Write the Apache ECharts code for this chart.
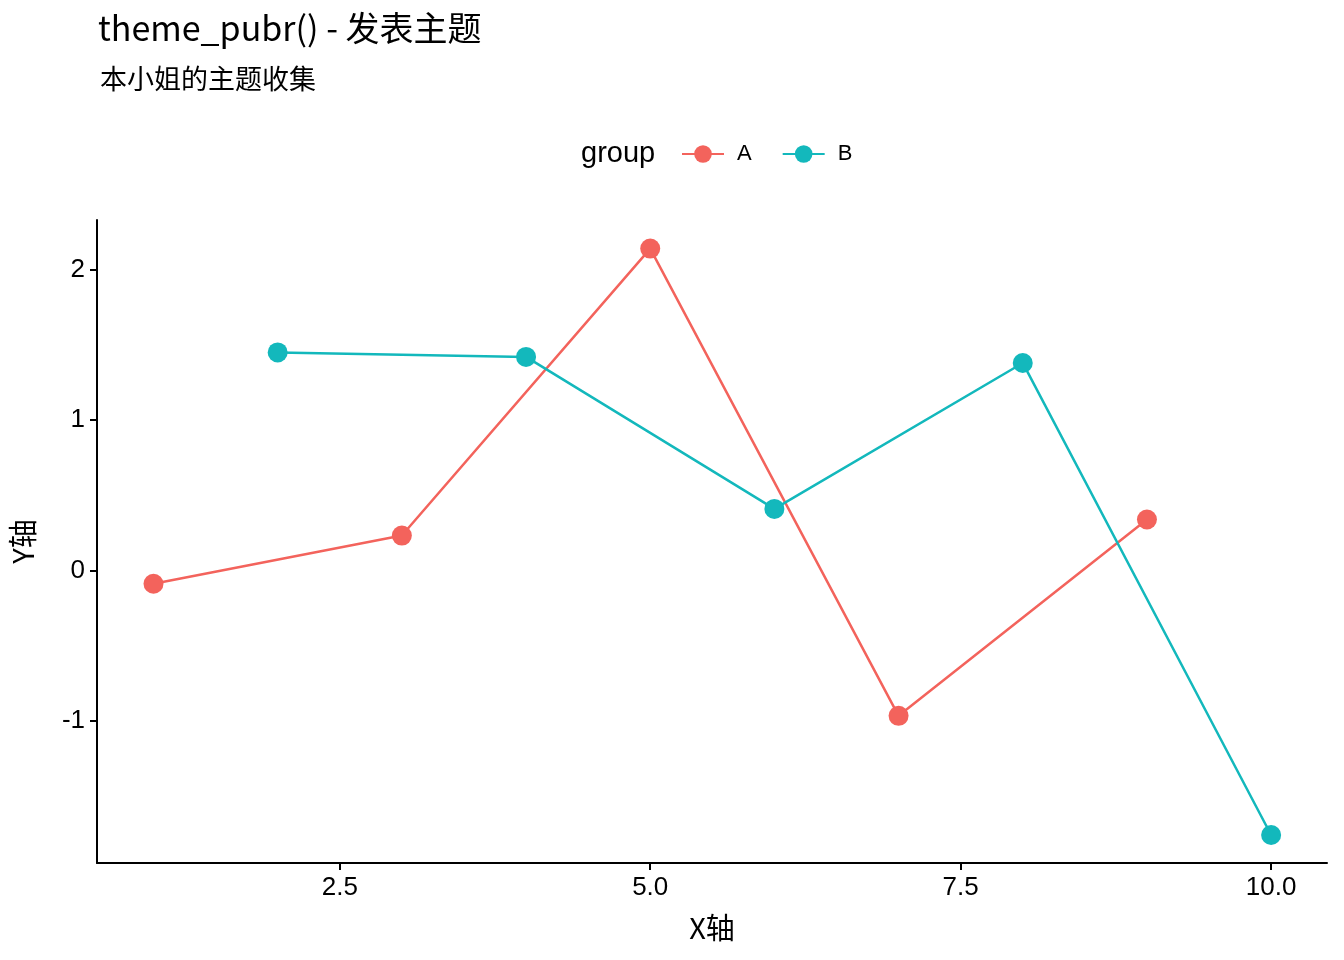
<!DOCTYPE html>
<html>
<head>
<meta charset="utf-8" />
<title>theme_pubr</title>
<script src="https://cdn.jsdelivr.net/npm/echarts@6.0.0/dist/echarts.min.js"></script>
<style>
  html, body { margin: 0; padding: 0; background: #fff; }
  #main { width: 1344px; height: 960px; }
</style>
</head>
<body>
<div id="main"></div>
<script>
// data
var xA = [1, 3, 5, 7, 9];
var yA = [-0.087, 0.233, 2.14, -0.965, 0.34];
var xB = [2, 4, 6, 8, 10];
var yB = [1.45, 1.42, 0.41, 1.38, -1.757];
var xTicks = [2.5, 5.0, 7.5, 10.0];
var yTicks = [-1, 0, 1, 2];

function pairs(xs, ys) {
  return xs.map(function (x, i) { return [x, ys[i]]; });
}

var font = '"Liberation Sans", "Noto Sans CJK SC", sans-serif';
var cjk = '"Noto Sans CJK SC", sans-serif';
var chart = echarts.init(document.getElementById('main'));
chart.setOption({
  animation: false,
  textStyle: { fontFamily: font },
  title: [
    { text: 'theme_pubr() - 发表主题', left: 93, top: 6,
      textStyle: { fontFamily: cjk, fontSize: 34, fontWeight: 'normal', color: '#000' } },
    { text: '本小姐的主题收集', left: 95, top: 60,
      textStyle: { fontFamily: cjk, fontSize: 27, fontWeight: 'normal', color: '#000' } },
    { text: 'group', left: 576, top: 134,
      textStyle: { fontFamily: font, fontSize: 29, fontWeight: 'normal', color: '#000' } }
  ],
  legend: {
    left: 676, top: 138,
    itemWidth: 42, itemHeight: 22, itemGap: 30,
    textStyle: { fontFamily: font, fontSize: 22, color: '#000', padding: [0, 0, 0, 8] },
    data: ['A', 'B']
  },
  grid: { left: 95, right: 17, top: 220, bottom: 97 },
  xAxis: {
    type: 'value', min: 0.545, max: 10.45,
    name: 'X轴', nameLocation: 'middle', nameGap: 50,
    nameTextStyle: { fontFamily: cjk, fontSize: 29, color: '#000' },
    axisLine: { onZero: false, lineStyle: { color: '#000', width: 2 } },
    axisTick: { show: true, length: 7, lineStyle: { color: '#000', width: 2 }, customValues: xTicks },
    axisLabel: { fontFamily: font, fontSize: 26, color: '#000', margin: 12, customValues: xTicks,
      formatter: function (v) { return v.toFixed(1); } },
    splitLine: { show: false }
  },
  yAxis: {
    type: 'value', min: -1.943, max: 2.33,
    name: 'Y轴', nameLocation: 'middle', nameGap: 60, nameRotate: 90,
    nameTextStyle: { fontFamily: cjk, fontSize: 29, color: '#000' },
    axisLine: { show: true, onZero: false, lineStyle: { color: '#000', width: 2 } },
    axisTick: { show: true, length: 7, lineStyle: { color: '#000', width: 2 }, customValues: yTicks },
    axisLabel: { fontFamily: font, fontSize: 26, color: '#000', margin: 12, customValues: yTicks },
    splitLine: { show: false }
  },
  series: [
    { name: 'A', type: 'line', data: pairs(xA, yA), symbol: 'circle', symbolSize: 20,
      itemStyle: { color: '#F3635C' }, lineStyle: { color: '#F3635C', width: 2.5 } },
    { name: 'B', type: 'line', data: pairs(xB, yB), symbol: 'circle', symbolSize: 20,
      itemStyle: { color: '#13B8BC' }, lineStyle: { color: '#13B8BC', width: 2.5 } }
  ]
});
window.onresize = function () { chart.resize(); };
</script>
</body>
</html>
